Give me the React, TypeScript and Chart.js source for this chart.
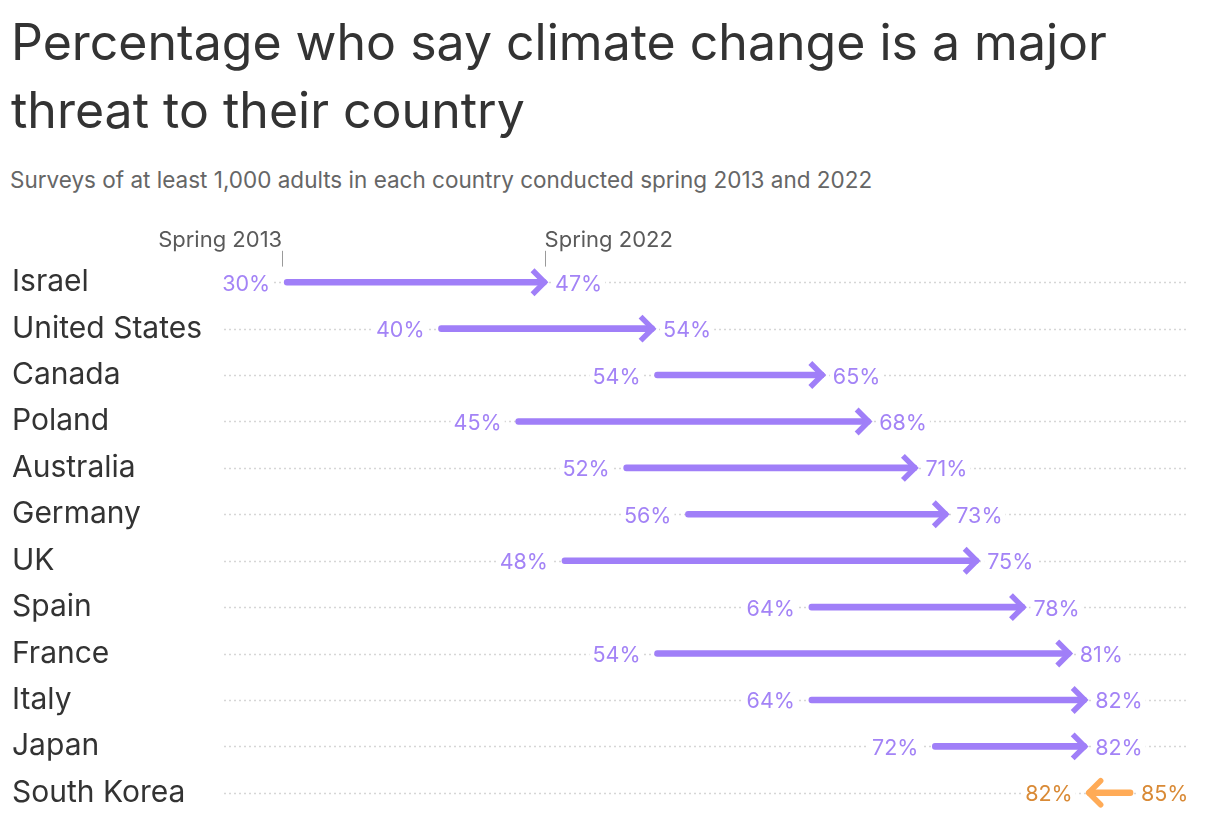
import { useEffect, useRef } from "react";
import { Chart, registerables, ChartConfiguration, Plugin } from "chart.js";

Chart.register(...registerables);

const countries = [
  "Israel",
  "United States",
  "Canada",
  "Poland",
  "Australia",
  "Germany",
  "UK",
  "Spain",
  "France",
  "Italy",
  "Japan",
  "South Korea",
];
const spring2013 = [30, 40, 54, 45, 52, 56, 48, 64, 54, 64, 72, 85];
const spring2022 = [47, 54, 65, 68, 71, 73, 75, 78, 81, 82, 82, 82];

const PURPLE = "#a07ff8";
const PURPLE_TEXT = "#a383f6";
const ORANGE = "#ffab57";
const ORANGE_TEXT = "#d98a36";
const FONT = "Inter, 'Noto Sans', sans-serif";

const rowColor = (i: number) => (spring2022[i] >= spring2013[i] ? PURPLE : ORANGE);
const rowText = (i: number) => (spring2022[i] >= spring2013[i] ? PURPLE_TEXT : ORANGE_TEXT);

// dotted row lines behind everything
const rowLines: Plugin = {
  id: "rowLines",
  beforeDatasetsDraw(chart) {
    const { ctx, chartArea, scales } = chart;
    ctx.save();
    ctx.strokeStyle = "#d6d6d6";
    ctx.lineWidth = 1.5;
    ctx.setLineDash([2, 3]);
    countries.forEach((_, i) => {
      const y = Math.round(scales.y.getPixelForValue(i)) + 0.5;
      ctx.beginPath();
      ctx.moveTo(chartArea.left, y);
      ctx.lineTo(chartArea.right, y);
      ctx.stroke();
    });
    ctx.restore();
  },
};

// arrow heads, value labels and the two column notes
const arrows: Plugin = {
  id: "arrows",
  afterDatasetsDraw(chart) {
    const { ctx, scales } = chart;
    const x = scales.x;
    const yS = scales.y;
    ctx.save();
    ctx.font = `21.5px ${FONT}`;
    countries.forEach((_, i) => {
      const y = yS.getPixelForValue(i);
      const s = x.getPixelForValue(spring2013[i]);
      const e = x.getPixelForValue(spring2022[i]);
      const fwd = e >= s;
      const dir = fwd ? 1 : -1;

      // chevron head
      const tip = e + dir * 1;
      ctx.strokeStyle = rowColor(i);
      ctx.lineWidth = 5.5;
      ctx.lineJoin = fwd ? "miter" : "round";
      ctx.lineCap = fwd ? "butt" : "round";
      ctx.beginPath();
      ctx.moveTo(tip - dir * 15, y - 12);
      ctx.lineTo(tip - dir * 3, y);
      ctx.lineTo(tip - dir * 15, y + 12);
      ctx.stroke();

      const drawLabel = (txt: string, px: number, align: "left" | "right") => {
        const w = ctx.measureText(txt).width;
        const left = align === "left" ? px : px - w;
        ctx.fillStyle = "#ffffff";
        ctx.fillRect(left - 3, y - 12, w + 6, 24);
        ctx.fillStyle = rowText(i);
        ctx.textAlign = "left";
        ctx.textBaseline = "alphabetic";
        ctx.fillText(txt, left, y + 8.5);
      };
      if (fwd) {
        drawLabel(`${spring2013[i]}%`, s - 14, "right");
        drawLabel(`${spring2022[i]}%`, e + 8.5, "left");
      } else {
        drawLabel(`${spring2013[i]}%`, s + 8, "left");
        drawLabel(`${spring2022[i]}%`, e - 14, "right");
      }
    });

    // column notes above the first row
    const y0 = yS.getPixelForValue(0);
    const sx = x.getPixelForValue(spring2013[0]) - 2;
    const ex = x.getPixelForValue(spring2022[0]) - 2;
    ctx.strokeStyle = "#9a9a9a";
    ctx.lineWidth = 1;
    ctx.setLineDash([]);
    [sx, ex].forEach((px) => {
      ctx.beginPath();
      ctx.moveTo(Math.round(px) + 0.5, y0 - 31);
      ctx.lineTo(Math.round(px) + 0.5, y0 - 16);
      ctx.stroke();
    });
    ctx.font = `22px ${FONT}`;
    ctx.fillStyle = "#5a5a5a";
    ctx.textBaseline = "alphabetic";
    ctx.textAlign = "right";
    ctx.fillText("Spring 2013", sx, y0 - 35);
    ctx.textAlign = "left";
    ctx.fillText("Spring 2022", ex, y0 - 35);
    ctx.restore();
  },
};

function ArrowChart() {
  const canvasRef = useRef<HTMLCanvasElement>(null);
  const chartRef = useRef<Chart | null>(null);

  useEffect(() => {
    if (!canvasRef.current) return;
    if (chartRef.current) chartRef.current.destroy();

    const config: ChartConfiguration<"bar"> = {
      type: "bar",
      data: {
        labels: countries,
        datasets: [
          {
            data: countries.map((_, i) => [spring2013[i], spring2022[i]] as [number, number]),
            backgroundColor: countries.map((_, i) => rowColor(i)),
            barThickness: 6,
            borderRadius: 3,
            borderSkipped: false,
          },
        ],
      },
      options: {
        indexAxis: "y",
        animation: false,
        responsive: true,
        maintainAspectRatio: false,
        events: [],
        layout: { padding: { left: 12, right: 33, top: 39, bottom: 22 } },
        plugins: { legend: { display: false }, tooltip: { enabled: false } },
        scales: {
          x: { display: false, min: 26.1, max: 88.5 },
          y: {
            grid: { display: false },
            border: { display: false },
            afterFit: (axis) => {
              axis.width = 212;
            },
            ticks: {
              crossAlign: "far",
              color: "#333333",
              font: { family: FONT, size: 30 },
              padding: 0,
            },
          },
        },
      },
      plugins: [rowLines, arrows],
    };

    chartRef.current = new Chart(canvasRef.current, config);
    return () => {
      chartRef.current?.destroy();
      chartRef.current = null;
    };
  }, []);

  return (
    <div style={{ position: "absolute", left: 0, top: 220, width: 1220, height: 618 }}>
      <canvas ref={canvasRef} />
    </div>
  );
}

export default function App() {
  return (
    <div
      style={{
        position: "absolute",
        left: 0,
        top: 0,
        width: 1220,
        height: 838,
        background: "#ffffff",
        fontFamily: FONT,
        overflow: "hidden",
      }}
    >
      <div
        style={{
          position: "absolute",
          left: 11,
          top: 7.5,
          fontSize: 50,
          lineHeight: "68px",
          color: "#333333",
          width: 1200,
        }}
      >
        Percentage who say climate change is a major
        <br />
        threat to their country
      </div>
      <div
        style={{
          position: "absolute",
          left: 10,
          top: 168,
          fontSize: 22.5,
          lineHeight: "24px",
          color: "#666666",
        }}
      >
        Surveys of at least 1,000 adults in each country conducted spring 2013 and 2022
      </div>
      <ArrowChart />
    </div>
  );
}
